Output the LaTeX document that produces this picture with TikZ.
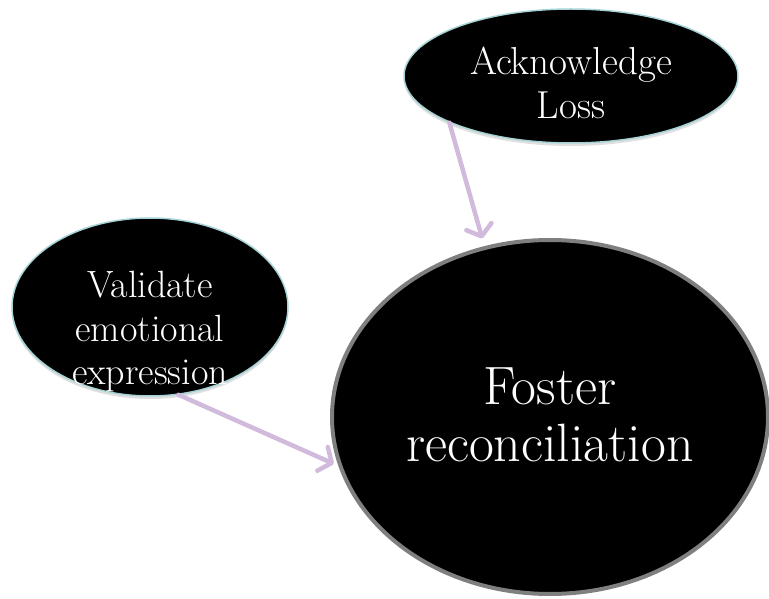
\documentclass[tikz,border=0pt]{standalone}
\usetikzlibrary{shapes.geometric,arrows.meta,shadows}
\definecolor{rimteal}{HTML}{A6D3D6}
\definecolor{rimgray}{HTML}{7F7F7F}
\definecolor{arrowlav}{HTML}{D2BADC}
\tikzset{
  blob/.style={ellipse, fill=black, draw=rimteal, line width=1.5pt, inner sep=0pt,
    drop shadow={opacity=0.25, shadow xshift=0pt, shadow yshift=-3pt}},
  bigblob/.style={ellipse, fill=black, draw=rimgray, line width=4pt, inner sep=0pt},
  lbl/.style={text=white, align=center, inner sep=0pt},
  link/.style={draw=arrowlav, line width=4.5pt, line cap=round,
    -{Straight Barb[length=10pt, width=26pt, line cap=round, line join=round]}}
}
\begin{document}
\begin{tikzpicture}[x=1pt, y=-1pt]
\useasboundingbox (0,0) rectangle (769,599);
\node[bigblob, minimum width=436pt, minimum height=354pt] (fost) at (550,417) {};
\node[blob, minimum width=334pt, minimum height=134pt] (ack) at (571,76) {};
\node[blob, minimum width=276pt, minimum height=178pt] (val) at (150,307) {};
\node[lbl, font=\fontsize{39}{44}\selectfont] (ackt) at (571,82.5) {Acknowledge\\Loss};
\node[lbl, font=\fontsize{38}{43.5}\selectfont] (valt) at (150,332) {Validate\\emotional\\expression};
\node[lbl, font=\fontsize{54}{57}\selectfont] (fostt) at (550,415) {Foster\\reconciliation};
\draw[link, shorten >=8pt] (ack.201.7) -- (fost.111.6);
\draw[link, shorten >=5pt] (val.288.6) -- (fost.193.8);
\end{tikzpicture}
\end{document}
